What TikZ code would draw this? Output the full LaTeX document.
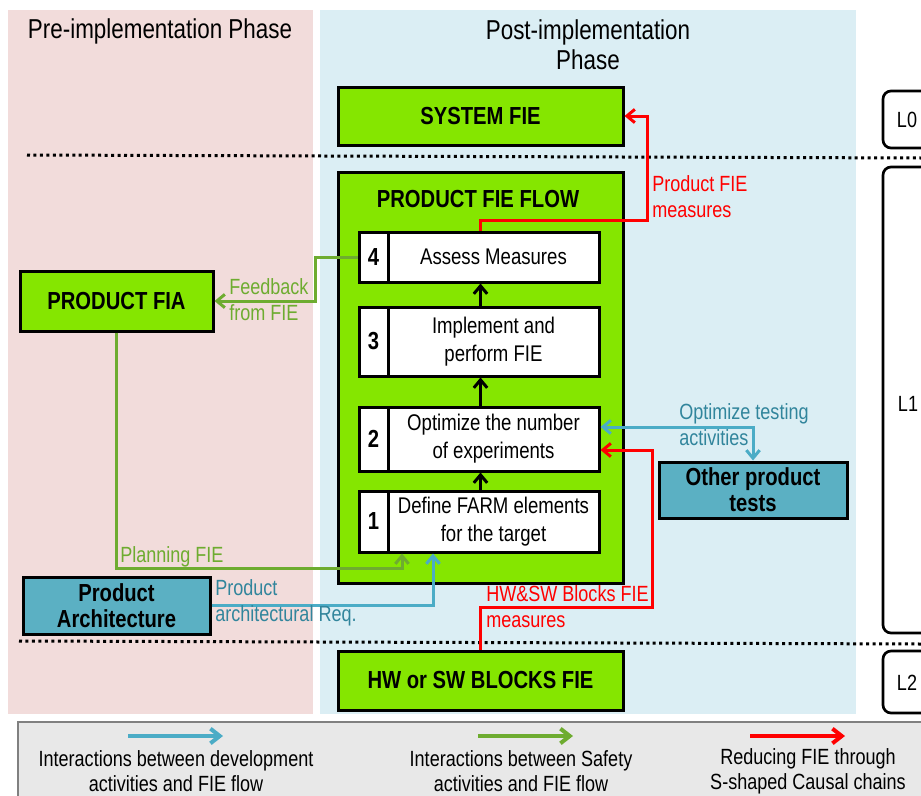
\documentclass[tikz,border=0pt]{standalone}
\usepackage{fontspec}
\setmainfont{Liberation Sans}[FakeStretch=0.82]
\usetikzlibrary{arrows.meta}
\definecolor{boxgreen}{RGB}{133,230,0}
\definecolor{pinkbg}{RGB}{242,220,219}
\definecolor{bluebg}{RGB}{219,238,244}
\definecolor{boxteal}{RGB}{91,176,195}
\definecolor{lineteal}{RGB}{75,172,198}
\definecolor{textteal}{RGB}{49,133,156}
\definecolor{linegreen}{RGB}{110,172,48}
\definecolor{legendgray}{RGB}{232,232,232}
\begin{document}
\begin{tikzpicture}[x=0.75pt,y=-0.75pt,
    every node/.style={font=\fontsize{16.5}{19.5}\selectfont},
    titlefont/.style={font=\bfseries\fontsize{18.5}{19.5}\selectfont},
    greenbox/.style={draw,line width=2.25pt,fill=boxgreen,titlefont},
    tealbox/.style={draw,line width=2.25pt,fill=boxteal,titlefont,align=center},
    numcell/.style={draw,line width=2.25pt,fill=white,minimum width=21.75pt,titlefont},
    stepcell/.style={draw,line width=2.25pt,fill=white,minimum width=158.25pt,align=center,
      font=\fontsize{17}{21}\selectfont},
    levelbox/.style={draw,line width=2pt,fill=white,rounded corners=6pt,minimum width=46.5pt},
    conn/.style={line width=2.25pt,-{Straight Barb[length=6pt,width=10pt]}},
    grn/.style={conn,draw=linegreen},
    tl/.style={conn,draw=lineteal},
    rd/.style={conn,draw=red},
    blk/.style={conn,draw=black},
    legarrow/.style={line width=3pt,-{Straight Barb[length=7pt,width=11pt]}},
    lbl/.style={anchor=west,align=left,inner sep=0pt},
    dotline/.style={line width=2.25pt,dash pattern=on 2.25pt off 2.6pt}]
  \useasboundingbox (0,0) rectangle (921,796);
  % phase backgrounds
  \fill[pinkbg] (8,10) rectangle (313,714);
  \fill[bluebg] (320,10) rectangle (856,714);
  \node[font=\fontsize{20.5}{22.5}\selectfont] (pre) at (160,31) {Pre-implementation Phase};
  \node[font=\fontsize{20.5}{22.5}\selectfont,align=center] (post) at (588,45) {Post-implementation\\Phase};
  \draw[dotline] (27,155) -- (921,158);
  \draw[dotline] (19,641) -- (921,644);
  % level boxes
  \node[levelbox,minimum height=42.75pt] (L0) at (914,119.5) {};
  \node[levelbox,minimum height=349.5pt] (L1) at (914,400) {};
  \node[levelbox,minimum height=46.5pt] (L2) at (914,682) {};
  \node (L0t) at (907,120) {L0};
  \node (L1t) at (908,404) {L1};
  \node (L2t) at (907,683) {L2};
  % boxes
  \node[greenbox,minimum width=213.75pt,minimum height=43.5pt] (sys) at (480.5,116) {SYSTEM FIE};
  \node[greenbox,minimum width=213.75pt,minimum height=308.25pt] (flow) at (480.5,377.5) {};
  \node[titlefont] (flowtitle) at (478,199) {PRODUCT FIE FLOW};
  \node[greenbox,minimum width=213.75pt,minimum height=44.25pt] (hw) at (480.5,680.5) {HW or SW BLOCKS FIE};
  \node[greenbox,minimum width=144.75pt,minimum height=45pt] (fia) at (116.5,301) {PRODUCT FIA};
  \node[tealbox,minimum width=140.25pt,minimum height=42.75pt] (arch) at (116.5,605.5) {Product\\Architecture};
  \node[tealbox,minimum width=141pt,minimum height=42pt] (tests) at (753,490) {Other product\\tests};
  % steps
  \node[numcell,minimum height=37.5pt] (n4) at (373.5,257) {4};
  \node[stepcell,minimum height=37.5pt] (s4) at (493.5,257) {Assess Measures};
  \node[numcell,minimum height=51.75pt] (n3) at (373.5,341.5) {3};
  \node[stepcell,minimum height=51.75pt] (s3) at (493.5,341.5) {Implement and\\perform FIE};
  \node[numcell,minimum height=48pt] (n2) at (373.5,439) {2};
  \node[stepcell,minimum height=48pt] (s2) at (493.5,439) {Optimize the number\\of experiments};
  \node[numcell,minimum height=45.75pt] (n1) at (373.5,521.5) {1};
  \node[stepcell,minimum height=45.75pt] (s1) at (493.5,521.5) {Define FARM elements\\for the target};
  \draw[blk] (s1.north -| sys.south) -- (s2.south -| sys.south);
  \draw[blk] (s2.north -| sys.south) -- (s3.south -| sys.south);
  \draw[blk] (s3.north -| sys.south) -- (s4.south -| sys.south);
  % connectors
  \coordinate (plan) at (402,568);
  \coordinate (req) at (433,607);
  \coordinate (pbend) at (647,220);
  \coordinate (hwbend) at (652,607);
  \draw[grn] (n4.west) -- ++(-42,0) |- (fia.east);
  \draw[grn] (fia.south) |- (plan) -- (plan |- s1.south);
  \draw[tl] (arch.east) -| (req |- s1.south);
  \draw[tl,{Straight Barb[length=6pt,width=10pt]}-{Straight Barb[length=6pt,width=10pt]}]
    ([yshift=9pt]s2.east) -| (tests.north);
  \draw[rd] (s4.north -| sys.south) |- (pbend) |- (sys.east);
  \draw[rd] (hw.north) |- (hwbend) |- ([yshift=-8.25pt]s2.east);
  \node[lbl,text=linegreen] (fb) at (229,300) {Feedback\\from FIE};
  \node[lbl,text=linegreen] (pl) at (120,557) {Planning FIE};
  \node[lbl,text=textteal] (pr) at (215,603) {Product\\architectural Req.};
  \node[lbl,text=textteal] (ot) at (679,425) {Optimize testing\\activities};
  \node[lbl,text=red] (pm) at (652,196.5) {Product FIE\\measures};
  \node[lbl,text=red] (hm) at (486,606.5) {HW\&SW Blocks FIE\\measures};
  % legend
  \node[draw=gray,line width=1pt,fill=legendgray,minimum width=684pt,minimum height=62.25pt] (legend) at (474,763.5) {};
  \coordinate (tla) at (128,736);
  \coordinate (tlb) at (223,736);
  \coordinate (gra) at (478,736);
  \coordinate (grb) at (573,736);
  \coordinate (rda) at (750,736);
  \coordinate (rdb) at (845,736);
  \draw[legarrow,draw=lineteal] (tla) -- (tlb);
  \draw[legarrow,draw=linegreen] (gra) -- (grb);
  \draw[legarrow,draw=red] (rda) -- (rdb);
  \node[align=center,font=\fontsize{16.5}{18.75}\selectfont] (tlt) at (176,771.5) {Interactions between development\\activities and FIE flow};
  \node[align=center,font=\fontsize{16.5}{18.75}\selectfont] (grt) at (521,771.5) {Interactions between Safety\\activities and FIE flow};
  \node[align=center,font=\fontsize{16.5}{18.75}\selectfont] (rdt) at (808,771.5) {Reducing FIE through\\S-shaped Causal chains};
\end{tikzpicture}
\end{document}
